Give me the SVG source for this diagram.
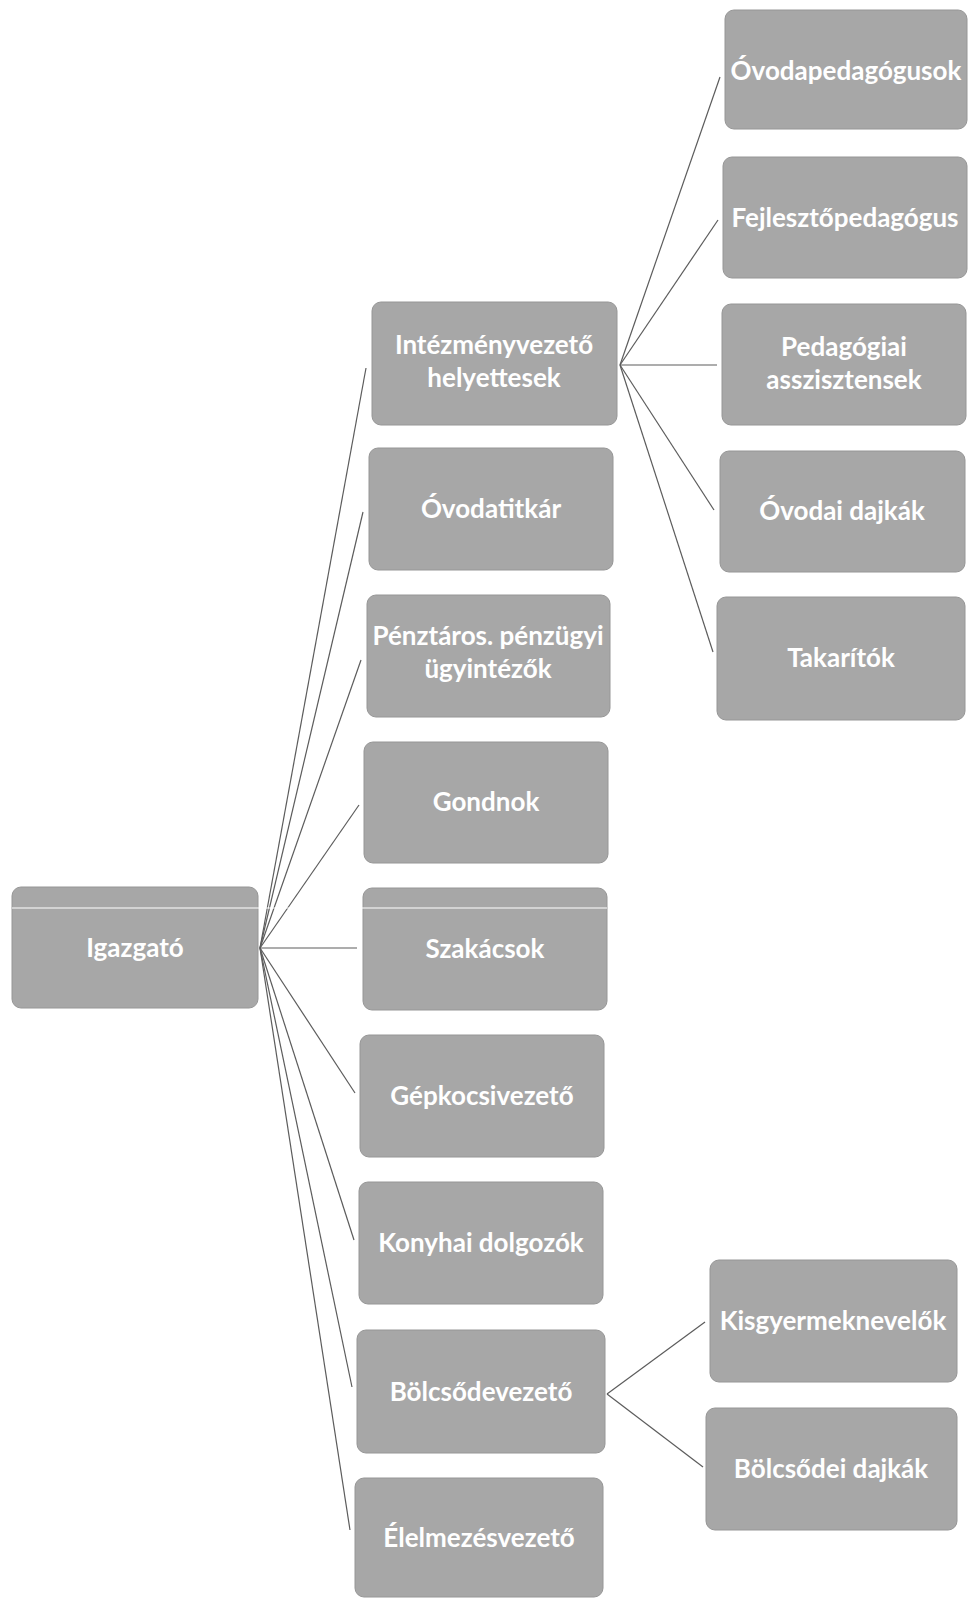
<svg xmlns="http://www.w3.org/2000/svg" width="969" height="1598" viewBox="0 0 969 1598">
<style>
.box{fill:#a7a7a7;stroke:#969696;stroke-width:1}
.lbl{font-family:Lato,"Open Sans","Liberation Sans",sans-serif;font-weight:700;font-size:26px;fill:#ffffff;text-anchor:middle}
.conn line{stroke:#5c5c5c;stroke-width:1.2;fill:none}
</style>
<rect width="969" height="1598" fill="#ffffff"/>
<g id="connectors" class="conn">
<line x1="260" y1="948" x2="366" y2="368"/>
<line x1="260" y1="948" x2="363" y2="512"/>
<line x1="260" y1="948" x2="361" y2="660"/>
<line x1="260" y1="948" x2="359" y2="805"/>
<line x1="260" y1="948" x2="357" y2="948"/>
<line x1="260" y1="948" x2="355" y2="1093"/>
<line x1="260" y1="948" x2="354" y2="1240"/>
<line x1="260" y1="948" x2="352" y2="1387"/>
<line x1="260" y1="948" x2="350" y2="1530"/>
<line x1="620" y1="365" x2="720" y2="77"/>
<line x1="620" y1="365" x2="718" y2="220"/>
<line x1="620" y1="365" x2="717" y2="365"/>
<line x1="620" y1="365" x2="714" y2="510"/>
<line x1="620" y1="365" x2="713" y2="652"/>
<line x1="607" y1="1394" x2="705" y2="1322"/>
<line x1="607" y1="1394" x2="703" y2="1467"/>
</g>
<g id="igazgato"><rect class="box" x="12" y="887" width="246" height="121" rx="9"/><text class="lbl" x="135" y="957">Igazgató</text></g>
<g id="intezmenyvezeto"><rect class="box" x="372" y="302" width="245" height="123" rx="9"/><text class="lbl" x="494" y="354">Intézményvezető</text><text class="lbl" x="494" y="387">helyettesek</text></g>
<g id="ovodatitkar"><rect class="box" x="369" y="448" width="244" height="122" rx="9"/><text class="lbl" x="491" y="518">Óvodatitkár</text></g>
<g id="penztaros"><rect class="box" x="367" y="595" width="243" height="122" rx="9"/><text class="lbl" x="488" y="645">Pénztáros. pénzügyi</text><text class="lbl" x="488" y="678">ügyintézők</text></g>
<g id="gondnok"><rect class="box" x="364" y="742" width="244" height="121" rx="9"/><text class="lbl" x="486" y="811">Gondnok</text></g>
<g id="szakacsok"><rect class="box" x="363" y="888" width="244" height="122" rx="9"/><text class="lbl" x="485" y="958">Szakácsok</text></g>
<g id="gepkocsivezeto"><rect class="box" x="360" y="1035" width="244" height="122" rx="9"/><text class="lbl" x="482" y="1105">Gépkocsivezető</text></g>
<g id="konyhai"><rect class="box" x="359" y="1182" width="244" height="122" rx="9"/><text class="lbl" x="481" y="1252">Konyhai dolgozók</text></g>
<g id="bolcsodevezeto"><rect class="box" x="357" y="1330" width="248" height="123" rx="9"/><text class="lbl" x="481" y="1401">Bölcsődevezető</text></g>
<g id="elelmezesvezeto"><rect class="box" x="355" y="1478" width="248" height="119" rx="9"/><text class="lbl" x="479" y="1547">Élelmezésvezető</text></g>
<g id="ovodapedagogusok"><rect class="box" x="725" y="10" width="242" height="119" rx="9"/><text class="lbl" x="846" y="80">Óvodapedagógusok</text></g>
<g id="fejlesztopedagogus"><rect class="box" x="723" y="157" width="244" height="121" rx="9"/><text class="lbl" x="845" y="227">Fejlesztőpedagógus</text></g>
<g id="pedagogiai"><rect class="box" x="722" y="304" width="244" height="121" rx="9"/><text class="lbl" x="844" y="356">Pedagógiai</text><text class="lbl" x="844" y="389">asszisztensek</text></g>
<g id="ovodaidajkak"><rect class="box" x="720" y="451" width="245" height="121" rx="9"/><text class="lbl" x="842" y="520">Óvodai dajkák</text></g>
<g id="takaritok"><rect class="box" x="717" y="597" width="248" height="123" rx="9"/><text class="lbl" x="841" y="667">Takarítók</text></g>
<g id="kisgyermeknevelok"><rect class="box" x="710" y="1260" width="247" height="122" rx="9"/><text class="lbl" x="833" y="1330">Kisgyermeknevelők</text></g>
<g id="bolcsodeidajkak"><rect class="box" x="706" y="1408" width="251" height="122" rx="9"/><text class="lbl" x="831" y="1478">Bölcsődei dajkák</text></g>
<line x1="12" y1="908" x2="607" y2="908" stroke="#ffffff" stroke-width="1"/>
</svg>
